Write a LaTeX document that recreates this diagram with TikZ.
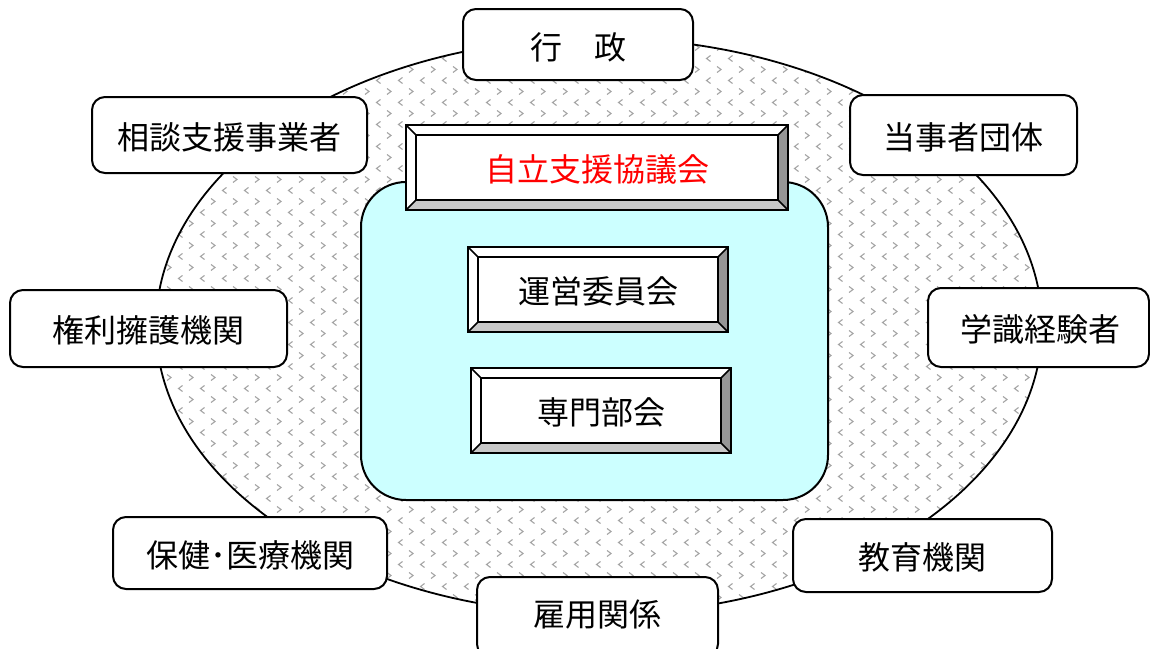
\documentclass[tikz,border=0pt]{standalone}
\usepackage{fontspec}
\newfontfamily\jpfont{Noto Sans CJK JP}
\usetikzlibrary{patterns}
\pgfdeclarepatternformonly{chevrons}{\pgfqpoint{-1pt}{-1pt}}{\pgfqpoint{23pt}{23pt}}{\pgfqpoint{22pt}{22pt}}{%
  \pgfsetlinewidth{1.1pt}%
  \pgfpathmoveto{\pgfqpoint{6.5pt}{20.5pt}}\pgfpathlineto{\pgfqpoint{2.5pt}{17.5pt}}\pgfpathlineto{\pgfqpoint{6.5pt}{14.5pt}}%
  \pgfpathmoveto{\pgfqpoint{13pt}{9.5pt}}\pgfpathlineto{\pgfqpoint{17pt}{6.5pt}}\pgfpathlineto{\pgfqpoint{13pt}{3.5pt}}%
  \pgfusepath{stroke}}
\definecolor{patgray}{RGB}{165,165,165}
\definecolor{lightcyan}{RGB}{204,255,255}
\definecolor{bevdark}{RGB}{150,150,150}
\definecolor{bevlight}{RGB}{200,200,200}
\tikzset{
  txt/.style={font=\jpfont\fontsize{32}{37}\selectfont, inner sep=0pt},
  rbox/.style={draw=black, line width=2pt, rounded corners=13pt, fill=white, txt},
}
% #1 name, #2 x1, #3 y1, #4 x2, #5 y2, #6 text options, #7 text
\newcommand\bevelbox[7]{%
  \fill[white] (#2,#3) -- (#4,#3) -- (#4-10,#3+10) -- (#2+10,#3+10) -- cycle;
  \fill[white] (#2,#3) -- (#2+10,#3+10) -- (#2+10,#5-10) -- (#2,#5) -- cycle;
  \fill[bevdark] (#4,#3) -- (#4,#5) -- (#4-10,#5-10) -- (#4-10,#3+10) -- cycle;
  \fill[bevlight] (#2,#5) -- (#4,#5) -- (#4-10,#5-10) -- (#2+10,#5-10) -- cycle;
  \draw[line width=1.5pt] (#2,#3) -- (#2+10,#3+10) (#4,#3) -- (#4-10,#3+10)
       (#2,#5) -- (#2+10,#5-10) (#4,#5) -- (#4-10,#5-10);
  \draw[line width=1.5pt, fill=white] (#2+10,#3+10) rectangle (#4-10,#5-10);
  \draw[line width=2pt] (#2,#3) rectangle (#4,#5);
  \node[txt,#6] (#1) at ({(#2+#4)/2},{(#3+#5)/2+2}) {#7};
}
\begin{document}
\begin{tikzpicture}[x=1pt,y=-1pt]
\useasboundingbox (0,0) rectangle (1150,648);
% outer ellipse
\fill[white] (599,326) ellipse [x radius=443, y radius=288];
\fill[pattern=chevrons, pattern color=patgray] (599,326) ellipse [x radius=443, y radius=288];
\draw[line width=1.8pt] (599,326) ellipse [x radius=443, y radius=288];
% cyan panel
\draw[line width=2pt, fill=lightcyan, rounded corners=45pt] (361,182) rectangle (828,500);
% bevel boxes
\bevelbox{council}{406}{125}{788}{210}{text=red}{自立支援協議会}
\bevelbox{steering}{468}{247}{728}{332}{}{運営委員会}
\bevelbox{expert}{471}{368}{731}{453}{}{専門部会}
% surrounding boxes
\node[rbox, minimum width=230pt, minimum height=71pt] (gyosei) at (578,44.5) {};
\node[txt] (gyoseitext) at (578,47) {行　政};
\node[rbox, minimum width=275pt, minimum height=76pt] (sodan) at (229.5,135) {};
\node[txt] (sodantext) at (229.5,137) {相談支援事業者};
\node[rbox, minimum width=227pt, minimum height=80pt] (tojisha) at (963.5,135) {};
\node[txt] (tojishatext) at (963.5,137) {当事者団体};
\node[rbox, minimum width=277pt, minimum height=77pt] (kenri) at (148.5,328.5) {};
\node[txt] (kenritext) at (148.5,330) {権利擁護機関};
\node[rbox, minimum width=221pt, minimum height=79pt] (gakushiki) at (1038.5,327.5) {};
\node[txt] (gakushikitext) at (1040,329) {学識経験者};
\node[rbox, minimum width=274pt, minimum height=72pt] (hoken) at (250,553) {};
\node[txt] (hokentext) at (250,555) {保健･医療機関};
\node[rbox, minimum width=259pt, minimum height=73pt] (kyoiku) at (922.5,555.5) {};
\node[txt] (kyoikutext) at (922.5,557) {教育機関};
\node[rbox, minimum width=241pt, minimum height=80pt] (koyo) at (597.5,617) {};
\node[txt] (koyotext) at (597.5,615) {雇用関係};
\end{tikzpicture}
\end{document}
